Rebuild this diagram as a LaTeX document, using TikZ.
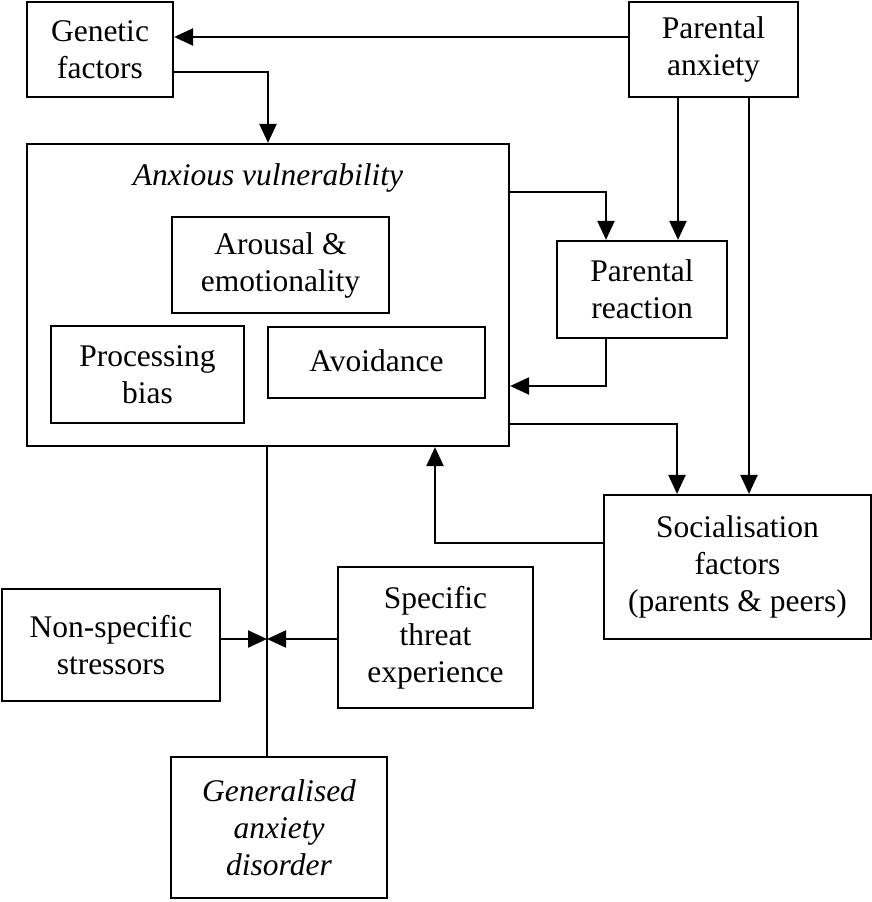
\documentclass[tikz,border=0pt]{standalone}
\usepackage{fontspec}
\setmainfont{Liberation Serif}
\usetikzlibrary{arrows.meta}
\begin{document}
\begin{tikzpicture}[x=1pt,y=-1pt,
  line width=2.2pt,
  box/.style={draw,line width=2.2pt,inner sep=0pt,align=center,
    font=\fontsize{31.5}{37}\selectfont},
  arr/.style={-{Triangle[length=19pt,width=17pt]}},
  lbl/.style={inner sep=0pt,font=\fontsize{31.5}{37}\selectfont\itshape}]
\useasboundingbox (0,0) rectangle (872,902);
% nodes
\node[box,minimum width=146pt,minimum height=95pt] (gen) at (100,49.5) {Genetic\\factors};
\node[box,minimum width=169pt,minimum height=95pt] (pa) at (713.5,49.5) {Parental\\anxiety};
\node[box,minimum width=482pt,minimum height=302pt] (av) at (268,295) {};
\node[lbl,anchor=base] (avt) at (268,185) {Anxious vulnerability};
\node[box,minimum width=217pt,minimum height=96pt] (aro) at (280.5,265) {Arousal \&\\emotionality};
\node[box,minimum width=193pt,minimum height=97pt] (proc) at (147.5,374.5) {Processing\\bias};
\node[box,minimum width=217pt,minimum height=71pt] (avd) at (376.5,362.5) {\raisebox{4pt}{Avoidance}};
\node[box,minimum width=170pt,minimum height=97pt] (pr) at (642,289.5) {Parental\\reaction};
\node[box,minimum width=267pt,minimum height=144pt] (soc) at (737.5,567) {Socialisation\\factors\\(parents \& peers)};
\node[box,minimum width=218pt,minimum height=112pt] (ns) at (111,645) {Non-specific\\stressors};
\node[box,minimum width=195pt,minimum height=141pt] (st) at (435.5,637.5) {Specific\\threat\\experience};
\node[box,minimum width=216pt,minimum height=141pt,font=\fontsize{31.5}{37}\selectfont\itshape] (gad) at (279,827.5) {Generalised\\anxiety\\disorder};
\coordinate (m) at (267,639);
% connectors
\draw[arr] ([yshift=12.5pt]pa.west) -- ([yshift=12.5pt]pa.west -| gen.east);
\draw[arr] ([yshift=-22.5pt]gen.east) -| (av.north);
\draw[arr] ([yshift=-49pt]av.north east) -| ([xshift=-36pt]pr.north);
\draw[arr] ([xshift=-35.5pt]pa.south) -- ([xshift=-35.5pt]pa.south |- pr.north);
\draw[arr] ([xshift=-36pt]pr.south) |- ([yshift=-91pt]av.east);
\draw[arr] ([yshift=23pt]av.south east) -| ([xshift=-60.5pt]soc.north);
\draw[arr] ([xshift=35.5pt]pa.south) -- ([xshift=35.5pt]pa.south |- soc.north);
\draw[arr] ([yshift=24pt]soc.west) -| ([xshift=167pt]av.south);
\draw (av.south -| m) -- (gad.north -| m);
\draw[arr] (ns.east |- m) -- (m);
\draw[arr] (st.west |- m) -- (m);
\end{tikzpicture}
\end{document}
